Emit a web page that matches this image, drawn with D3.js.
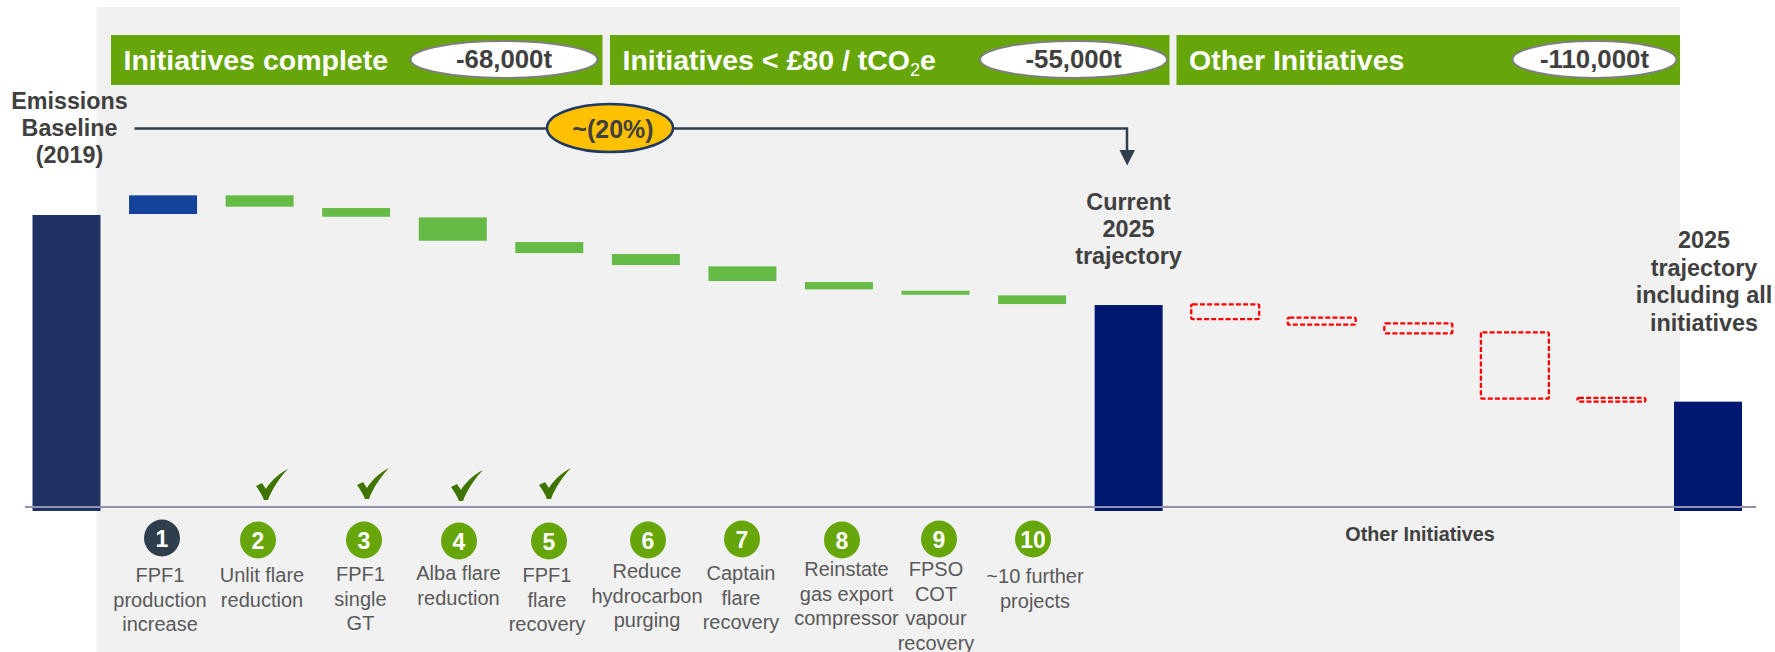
<!DOCTYPE html>
<html>
<head>
<meta charset="utf-8">
<script src="https://cdn.jsdelivr.net/npm/d3@7"></script>
<style>
  html, body { margin: 0; padding: 0; background: #fff; overflow: hidden; }
  text { font-family: "Liberation Sans", Arial, sans-serif; }
</style>
</head>
<body>
<div id="chart"></div>
<script>
const WIDTH = 1775
const HEIGHT = 652

// waterfall, values in tCO2e
const categories = ['Baseline', 'i1', 'i2', 'i3', 'i4', 'i5', 'i6', 'i7', 'i8', 'i9', 'i10', 'Current', 'o1', 'o2', 'o3', 'o4', 'o5', 'Final']
const barHigh = [336000, 358300, 358300, 343900, 333300, 305300, 291700, 277700, 259900, 250000, 244800, 233800, 234600, 219400, 213000, 202800, 128300, 124100]
const barLow = [0, 337100, 345400, 334000, 306800, 292800, 279200, 261000, 251600, 245500, 234900, 0, 217900, 211500, 201700, 127500, 124100, 0]
const barKind = ['baseline', 'increase', 'cut', 'cut', 'cut', 'cut', 'cut', 'cut', 'cut', 'cut', 'cut', 'total', 'other', 'other', 'other', 'other', 'other', 'total']

const numbers = ['1', '2', '3', '4', '5', '6', '7', '8', '9', '10']
const initiativeLabels = [
  ['FPF1', 'production', 'increase'],
  ['Unlit flare', 'reduction'],
  ['FPF1', 'single', 'GT'],
  ['Alba flare', 'reduction'],
  ['FPF1', 'flare', 'recovery'],
  ['Reduce', 'hydrocarbon', 'purging'],
  ['Captain', 'flare', 'recovery'],
  ['Reinstate', 'gas export', 'compressor'],
  ['FPSO', 'COT', 'vapour', 'recovery'],
  ['~10 further', 'projects']
]
const completed = [false, true, true, true, true, false, false, false, false, false]

const bannerTitles = ['Initiatives complete', 'Initiatives < £80 / tCO', 'Other Initiatives']
const bannerTotals = ['-68,000t', '-55,000t', '-110,000t']

// hand placed bits of the slide, they do not sit exactly under the bars
const circleX = [162, 258, 364, 459, 549, 648, 742, 842, 939, 1033]
const circleY = [538, 540, 540, 541, 541, 540, 539, 540, 539, 539]
const labelX = [160, 262, 360.5, 458.5, 547, 647, 741, 846.5, 936, 1035]
const labelY = [582, 582, 581, 580, 582, 578, 580, 576, 576, 583]
const checkX = [0, 256, 357, 451, 539]
const checkY = [0, 469, 468, 470, 468]
const bannerBox = [[111, 602.5], [610, 1169.5], [1176.5, 1680]]
const bannerTextX = [123.5, 622.5, 1189]
const ovalBox = [[504, 93.5], [1073.5, 93.5], [1594.5, 82]]

const COLORS = {
  baseline: '#1f3264',
  increase: '#13439b',
  cut: '#66bb46',
  total: '#00176f',
  banner: '#66a60a',
  panel: '#f1f1f1',
  ink: '#404040',
  label: '#595959',
  dark: '#2f3e4c'
}

const svg = d3.select('#chart').append('svg')
  .attr('width', WIDTH)
  .attr('height', HEIGHT)
  .style('display', 'block')

const x = d3.scaleBand()
  .domain(categories)
  .range([32.5, 1742])
  .paddingInner(0.296)
  .paddingOuter(0)

const y = d3.scaleLinear()
  .domain([0, 336000])
  .range([511, 215])

// grey slide panel
svg.append('rect')
  .attr('x', 96.5).attr('y', 7)
  .attr('width', 1583.5).attr('height', HEIGHT - 7)
  .attr('fill', COLORS.panel)

// banners
bannerTitles.forEach((title, i) => {
  svg.append('rect')
    .attr('x', bannerBox[i][0]).attr('y', 35)
    .attr('width', bannerBox[i][1] - bannerBox[i][0]).attr('height', 50)
    .attr('fill', COLORS.banner)

  const t = svg.append('text')
    .attr('x', bannerTextX[i])
    .attr('y', 70)
    .attr('fill', '#fff')
    .attr('font-size', 28.5)
    .attr('font-weight', 'bold')
    .text(title)
  if (i === 1) {
    t.append('tspan').attr('font-size', 18).attr('font-weight', 'normal').attr('dy', 6).text('2')
    t.append('tspan').attr('dy', -6).text('e')
  }

  svg.append('ellipse')
    .attr('cx', ovalBox[i][0]).attr('cy', 59.5)
    .attr('rx', ovalBox[i][1]).attr('ry', 18.5)
    .attr('fill', '#fff')
    .attr('stroke', '#7f7f7f')
    .attr('stroke-width', 2)

  svg.append('text')
    .attr('x', ovalBox[i][0])
    .attr('y', 68)
    .attr('text-anchor', 'middle')
    .attr('fill', COLORS.ink)
    .attr('font-size', 25.8)
    .attr('font-weight', 'bold')
    .text(bannerTotals[i])
})

// bars
const solid = categories.map((c, i) => i).filter(i => barKind[i] !== 'other')
const dashed = categories.map((c, i) => i).filter(i => barKind[i] === 'other')

svg.selectAll('rect.bar')
  .data(solid)
  .enter()
  .append('rect')
  .attr('class', 'bar')
  .attr('x', i => x(categories[i]))
  .attr('width', x.bandwidth())
  .attr('y', i => y(barHigh[i]))
  .attr('height', i => y(barLow[i]) - y(barHigh[i]))
  .attr('fill', i => COLORS[barKind[i]])

svg.selectAll('rect.other')
  .data(dashed)
  .enter()
  .append('rect')
  .attr('class', 'other')
  .attr('x', i => x(categories[i]))
  .attr('width', x.bandwidth())
  .attr('y', i => y(barHigh[i]))
  .attr('height', i => y(barLow[i]) - y(barHigh[i]))
  .attr('rx', 1.5)
  .attr('fill', 'none')
  .attr('stroke', '#ff0000')
  .attr('stroke-width', 2.3)
  .attr('stroke-dasharray', '5 2.2')

// axis line runs across the bars, a little above their feet
const axisY = y(0) - 4
svg.append('line')
  .attr('x1', 25).attr('x2', 1756)
  .attr('y1', axisY).attr('y2', axisY)
  .attr('stroke', '#8f93b0')
  .attr('stroke-width', 2)

// ~(20%) bracket
const bracket = d3.path()
bracket.moveTo(134.5, 128.5)
bracket.lineTo(1127, 128.5)
bracket.lineTo(1127, 152)
svg.append('path')
  .attr('d', bracket.toString())
  .attr('fill', 'none')
  .attr('stroke', COLORS.dark)
  .attr('stroke-width', 2.5)

svg.append('path')
  .attr('d', 'M1119.5,150 L1135,150 L1127.2,165.5 Z')
  .attr('fill', COLORS.dark)

svg.append('ellipse')
  .attr('cx', 610).attr('cy', 128)
  .attr('rx', 63).attr('ry', 24)
  .attr('fill', '#ffc000')
  .attr('stroke', '#1f3864')
  .attr('stroke-width', 2.5)

svg.append('text')
  .attr('x', 613).attr('y', 138)
  .attr('text-anchor', 'middle')
  .attr('fill', COLORS.ink)
  .attr('font-size', 25)
  .attr('font-weight', 'bold')
  .text('~(20%)')

// bold call-outs
const callout = (lines, cx, baselines, size) => {
  lines.forEach((line, i) => {
    svg.append('text')
      .attr('x', cx).attr('y', baselines[i])
      .attr('text-anchor', 'middle')
      .attr('fill', COLORS.ink)
      .attr('font-size', size)
      .attr('font-weight', 'bold')
      .text(line)
  })
}
callout(['Emissions', 'Baseline', '(2019)'], 69.5, [109, 136, 163], 23.3)
callout(['Current', '2025', 'trajectory'], 1128.5, [210, 237, 264], 23.4)
callout(['2025', 'trajectory', 'including all', 'initiatives'], 1704, [248, 276, 303, 331], 23.4)
callout(['Other Initiatives'], 1420, [541], 19.8)

// check marks
completed.forEach((done, i) => {
  if (!done) return
  svg.append('path')
    .attr('transform', `translate(${checkX[i]},${checkY[i]})`)
    .attr('d', 'M0,17 L6,14 L10,20 C14,13 22,5 32,0 C24,8 16,20 12,31 L8,31 C6,26 3,21 0,17 Z')
    .attr('fill', '#3f7400')
})

// numbered circles and their labels
numbers.forEach((n, i) => {
  svg.append('ellipse')
    .attr('cx', circleX[i]).attr('cy', circleY[i])
    .attr('rx', 18).attr('ry', 18.5)
    .attr('fill', i === 0 ? COLORS.dark : COLORS.banner)

  svg.append('text')
    .attr('x', circleX[i]).attr('y', circleY[i] + 8.5)
    .attr('text-anchor', 'middle')
    .attr('fill', '#fff')
    .attr('font-size', 23)
    .attr('font-weight', 'bold')
    .text(n)

  initiativeLabels[i].forEach((line, j) => {
    svg.append('text')
      .attr('x', labelX[i])
      .attr('y', labelY[i] + j * 24.5)
      .attr('text-anchor', 'middle')
      .attr('fill', COLORS.label)
      .attr('font-size', 20)
      .text(line)
  })
})
</script>
</body>
</html>
